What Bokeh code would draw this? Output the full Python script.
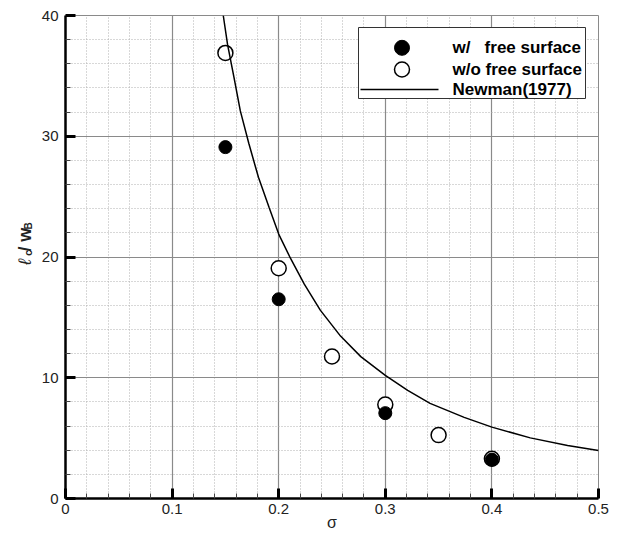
import math

from bokeh.embed import file_html
from bokeh.layouts import row
from bokeh.models import (BoxAnnotation, ColumnDataSource, FixedTicker, Label,
                          Range1d)
from bokeh.plotting import figure
from bokeh.resources import INLINE

# ---- data -------------------------------------------------------------
sigma_fs = [0.15, 0.20, 0.30, 0.40]            # w/ free surface
ratio_fs = [29.1, 16.5, 7.07, 3.22]

sigma_nofs = [0.15, 0.20, 0.25, 0.30, 0.35, 0.40]   # w/o free surface
ratio_nofs = [36.9, 19.07, 11.76, 7.78, 5.25, 3.29]

sigma_newman = [0.148, 0.152, 0.158, 0.164, 0.172, 0.181, 0.191, 0.200,
                0.211, 0.224, 0.239, 0.258, 0.277, 0.300, 0.321, 0.342,
                0.374, 0.400, 0.436, 0.471, 0.500]
ratio_newman = [40.0, 37.6, 34.9, 32.1, 29.4, 26.6, 24.1, 21.9,
                19.9, 17.75, 15.6, 13.45, 11.75, 10.2, 8.95, 7.88,
                6.72, 5.91, 5.02, 4.39, 3.97]

series_labels = ["w/\u00a0\u00a0 free surface", "w/o free surface",
                 "Newman(1977)"]

x_ticks = [0.0, 0.1, 0.2, 0.3, 0.4, 0.5]
x_tick_labels = ["0", "0.1", "0.2", "0.3", "0.4", "0.5"]
x_minor = [0.02, 0.04, 0.06, 0.08, 0.12, 0.14, 0.16, 0.18, 0.22, 0.24, 0.26,
           0.28, 0.32, 0.34, 0.36, 0.38, 0.42, 0.44, 0.46, 0.48]
y_ticks = [0, 10, 20, 30, 40]
y_tick_labels = ["0", "10", "20", "30", "40"]
y_minor = [2, 4, 6, 8, 12, 14, 16, 18, 22, 24, 26, 28, 32, 34, 36, 38]

X0, X1 = 0.0, 0.5
Y0, Y1 = 0.0, 40.0

# ---- layout -----------------------------------------------------------
W, H = 618, 536
TITLE_W = 36                      # narrow strip holding the y-axis title
BL, BR, BT, BB = 65, 20, 15, 38
FRAME_L, FRAME_R = BL, W - BR
FRAME_T, FRAME_B = BT, H - BB

FONT = "Liberation Sans"

p = figure(width=W - TITLE_W, height=H, output_backend="svg",
           toolbar_location=None,
           x_range=Range1d(X0, X1), y_range=Range1d(Y0, Y1),
           min_border_left=BL - TITLE_W, min_border_right=BR,
           min_border_top=BT, min_border_bottom=BB)
p.background_fill_color = "white"
p.border_fill_color = "white"
p.outline_line_color = "#8a8a8a"
p.outline_line_width = 1

# ---- axes -------------------------------------------------------------
p.xaxis.ticker = FixedTicker(ticks=x_ticks, minor_ticks=x_minor)
p.yaxis.ticker = FixedTicker(ticks=y_ticks, minor_ticks=y_minor)
p.xaxis.major_label_overrides = dict(zip(x_ticks, x_tick_labels))
p.yaxis.major_label_overrides = dict(zip(y_ticks, y_tick_labels))

for ax in (p.xaxis[0], p.yaxis[0]):
    ax.axis_line_color = "black"
    ax.axis_line_width = 2.5
    ax.major_tick_in = 10
    ax.major_tick_out = 0
    ax.major_tick_line_width = 3
    ax.major_tick_line_color = "black"
    ax.minor_tick_in = 5
    ax.minor_tick_out = 0
    ax.minor_tick_line_color = "#444444"
    ax.minor_tick_line_width = 1
    ax.major_label_text_font = FONT
    ax.major_label_text_font_size = "15px"
    ax.major_label_text_color = "#222222"
    ax.major_label_standoff = 5

p.yaxis.major_label_standoff = 7

p.xaxis.axis_label = "σ"
p.xaxis.axis_label_text_font = FONT
p.xaxis.axis_label_text_font_style = "normal"
p.xaxis.axis_label_text_font_size = "16px"
p.xaxis.axis_label_text_color = "#222222"
p.xaxis.axis_label_standoff = -3

# ---- grid -------------------------------------------------------------
for g in (p.xgrid[0], p.ygrid[0]):
    g.grid_line_color = "#8a8a8a"
    g.grid_line_width = 1.2
    g.minor_grid_line_color = "#b0b0b0"
    g.minor_grid_line_dash = "1 2"
    g.minor_grid_line_width = 1

# ---- marks ------------------------------------------------------------
src_fs = ColumnDataSource(dict(x=sigma_fs, y=ratio_fs))
src_nofs = ColumnDataSource(dict(x=sigma_nofs, y=ratio_nofs))
src_newman = ColumnDataSource(dict(x=sigma_newman, y=ratio_newman))

OPEN_STYLE = dict(marker="circle", fill_color="white", line_color="black",
                  line_width=1.5)
FILL_STYLE = dict(marker="circle", fill_color="black", line_color="black",
                  line_width=1)
LINE_STYLE = dict(line_color="black", line_width=1.5)

p.scatter("x", "y", source=src_nofs, size=15, **OPEN_STYLE)
p.scatter("x", "y", source=src_fs, size=13, **FILL_STYLE)
p.line("x", "y", source=src_newman, **LINE_STYLE)


# ---- legend box (pixel layout converted to plot coordinates) ------------
def sx_to_x(px):
    return X0 + (px - FRAME_L) * (X1 - X0) / (FRAME_R - FRAME_L)


def sy_to_y(py):
    return Y0 + (FRAME_B - py) * (Y1 - Y0) / (FRAME_B - FRAME_T)


LEG_L, LEG_R, LEG_T, LEG_B = 358, 585, 27, 98
ROWS = [47.3, 69.0, 89.0]
KEY_L, KEY_R, KEY_C, TEXT_L = 360, 438, 401.5, 452

p.add_layout(BoxAnnotation(left=sx_to_x(LEG_L), right=sx_to_x(LEG_R),
                           top=sy_to_y(LEG_T), bottom=sy_to_y(LEG_B),
                           fill_color="white", fill_alpha=1.0,
                           line_color="#333333", line_width=1,
                           line_alpha=1.0))

p.scatter([sx_to_x(KEY_C)], [sy_to_y(ROWS[0])], size=15, level="overlay",
          **FILL_STYLE)
p.scatter([sx_to_x(KEY_C)], [sy_to_y(ROWS[1])], size=15, level="overlay",
          **OPEN_STYLE)
p.line([sx_to_x(KEY_L), sx_to_x(KEY_R)], [sy_to_y(ROWS[2])] * 2,
       level="overlay", **LINE_STYLE)

for row_y, txt in zip(ROWS, series_labels):
    p.add_layout(Label(x=sx_to_x(TEXT_L), y=sy_to_y(row_y), text=txt,
                       text_align="left", text_baseline="middle",
                       text_font=FONT, text_font_style="bold",
                       text_font_size="17px", text_color="black"))

# ---- y-axis title strip: pixel coordinates, y measured from the top ------
t = figure(width=TITLE_W, height=H, output_backend="svg",
           toolbar_location=None, x_axis_type=None, y_axis_type=None,
           x_range=Range1d(0, TITLE_W), y_range=Range1d(H, 0),
           min_border_left=0, min_border_right=0,
           min_border_top=0, min_border_bottom=0)
t.outline_line_color = None
t.background_fill_color = "white"
t.border_fill_color = "white"
t.xgrid.visible = False
t.ygrid.visible = False

title_parts = [
    # text, baseline px, start px, size, style
    ("ℓ", 24.0, 277, "18px", "italic"),
    ("c", 27.5, 267, "11px", "bold"),
    ("/", 24.0, 262, "18px", "bold"),
    ("w", 24.0, 251, "18px", "bold"),
    ("B", 27.5, 237.5, "10px", "bold"),
]
for txt, bx, by, size, style in title_parts:
    t.add_layout(Label(x=bx, y=by, text=txt, angle=math.pi / 2,
                       text_align="left", text_baseline="alphabetic",
                       text_font=FONT, text_font_size=size,
                       text_font_style=style, text_color="#222222"))

layout = row(t, p, spacing=0)
open("out.html", "w").write(file_html(layout, INLINE))
